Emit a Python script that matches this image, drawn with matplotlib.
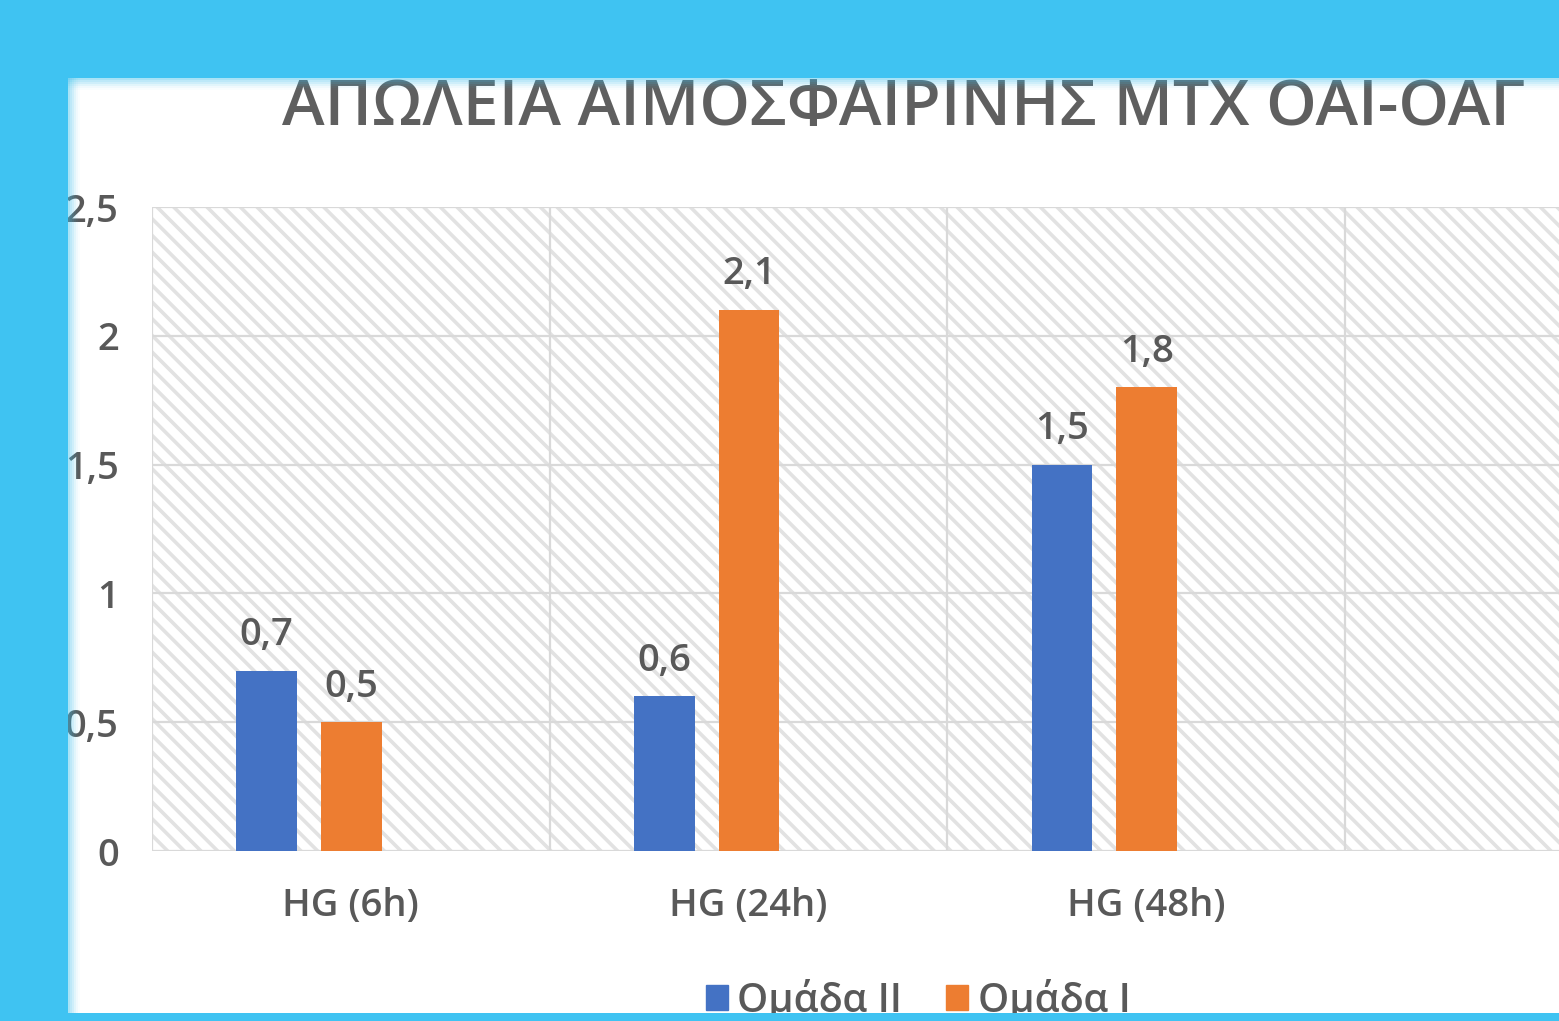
import matplotlib
matplotlib.use("Agg")
import matplotlib.pyplot as plt
from matplotlib.patches import Rectangle, Patch
from matplotlib.ticker import FuncFormatter, FixedLocator

# ---- data ----
title = "ΑΠΩΛΕΙΑ ΑΙΜΟΣΦΑΙΡΙΝΗΣ ΜΤΧ ΟΑΙ-ΟΑΓ"
categories = ["HG (6h)", "HG (24h)", "HG (48h)"]
series_names = ["Ομάδα II", "Ομάδα I"]
group_ii = [0.7, 0.6, 1.5]
group_i = [0.5, 2.1, 1.8]
yticks = [0, 0.5, 1, 1.5, 2, 2.5]

# ---- style ----
W, H = 1559, 1021
FONT = ["Open Sans", "DejaVu Sans"]
TEXT = "#595959"
BLUE = "#4472C4"
ORANGE = "#ED7D31"
FRAME = "#3FC3F2"
FS = 27.5
plt.rcParams["font.family"] = FONT
plt.rcParams["font.weight"] = "semibold"
plt.rcParams["hatch.linewidth"] = 2.6


def comma(v):
    return f"{v:g}".replace(".", ",")


def fx(px):
    return px / W


def fy(py):
    return 1 - py / H


fig = plt.figure(figsize=(W / 100, H / 100), dpi=100, facecolor="white")

# plot area (the last category column runs off the right edge)
left, right, top, bottom = 152, 1559, 207, 851
col = 397.7
ax = fig.add_axes([fx(left), fy(bottom), fx(right - left), (bottom - top) / H])
ax.set_xlim(-0.5, -0.5 + (right - left) / col)
ax.set_ylim(0, 2.5)

ax.add_patch(Rectangle((0, 0), 1, 1, transform=ax.transAxes, facecolor="white",
                       edgecolor="#E2E2E2", hatch="\\\\", lw=0, zorder=0))

x = list(range(len(categories)))
width = 0.153
b1 = ax.bar([i - 0.212 for i in x], group_ii, width, color=BLUE, zorder=3)
b2 = ax.bar([i + 0.001 for i in x], group_i, width, color=ORANGE, zorder=3)
for bars, vals in [(b1, group_ii), (b2, group_i)]:
    ax.bar_label(bars, labels=[comma(v) for v in vals], padding=12,
                 fontsize=FS, color=TEXT)

ax.set_yticks(yticks)
ax.yaxis.set_major_formatter(FuncFormatter(lambda v, p: comma(v)))
ax.set_xticks(x)
ax.set_xticklabels(categories)
ax.xaxis.set_minor_locator(FixedLocator([-0.5, 0.5, 1.5, 2.5]))
ax.tick_params(axis="both", which="both", length=0, colors=TEXT, labelsize=FS)
ax.tick_params(axis="y", pad=24)
ax.tick_params(axis="x", pad=26)

ax.set_axisbelow(True)
ax.grid(axis="y", color="#D9D9D9", lw=1.6)
ax.grid(axis="x", which="minor", color="#D9D9D9", lw=1.6)
for s in ax.spines.values():
    s.set_visible(False)

# title, fitted to its width
t = fig.text(fx(904), fy(125), title, ha="center", va="baseline",
             fontsize=40, color="#5F5F5F")
fig.canvas.draw()
w = t.get_window_extent().width
t.set_fontsize(40 * 1242 / w)

handles = [Patch(color=BLUE), Patch(color=ORANGE)]
fig.legend(handles, series_names, loc="center", bbox_to_anchor=(fx(918), fy(1000)),
           ncol=2, frameon=False, fontsize=FS + 1, labelcolor=TEXT,
           handlelength=0.55, handleheight=0.6, handletextpad=0.25, columnspacing=1.1)

# light-blue frame around the white sheet, with a soft inner edge
frame = [(0, fy(78), 1, 78 / H), (0, 0, fx(68), 1), (0, 0, 1, (H - 1013) / H)]
for (x0, y0, wd, ht) in frame:
    fig.add_artist(Rectangle((x0, y0), wd, ht, transform=fig.transFigure,
                             facecolor=FRAME, lw=0, zorder=10))
for k in range(1, 7):
    a = 0.55 * (1 - k / 7)
    d = k * 2
    fig.add_artist(Rectangle((0, fy(78 + d)), 1, d / H, transform=fig.transFigure,
                             facecolor=FRAME, alpha=a / 3, lw=0, zorder=10))
    fig.add_artist(Rectangle((fx(68), 0), d / W, 1, transform=fig.transFigure,
                             facecolor=FRAME, alpha=a / 3, lw=0, zorder=10))

fig.savefig("out.png", dpi=100, facecolor="white")
